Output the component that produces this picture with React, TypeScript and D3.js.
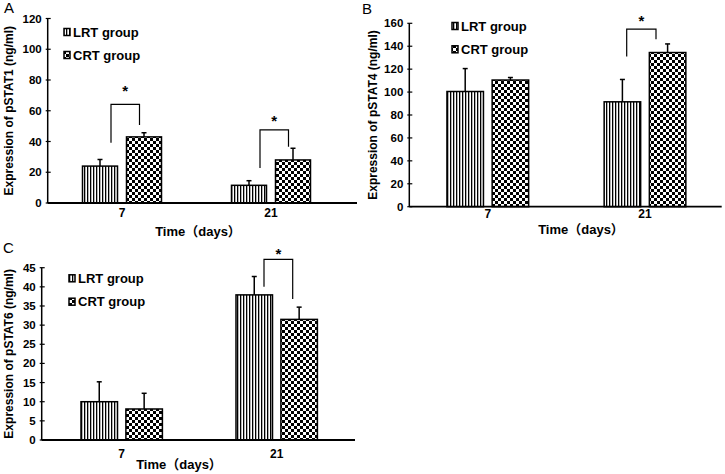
import React from "react";
import * as d3 from "d3";

// ---------- data ----------
const categories = ["7", "21"];
const seriesNames = ["LRT group", "CRT group"];

const pstat1LRT = [24, 11.5];
const pstat1CRT = [43, 28];
const pstat1LRTErr = [4.3, 3];
const pstat1CRTErr = [2.7, 7.6];
const pstat1Ticks = [0, 20, 40, 60, 80, 100, 120];

const pstat4LRT = [100.5, 91.5];
const pstat4CRT = [110.5, 134.5];
const pstat4LRTErr = [20, 19.5];
const pstat4CRTErr = [2.2, 7.5];
const pstat4Ticks = [0, 20, 40, 60, 80, 100, 120, 140, 160];

const pstat6LRT = [10, 37.9];
const pstat6CRT = [8.1, 31.5];
const pstat6LRTErr = [5.2, 4.8];
const pstat6CRTErr = [4.1, 3.2];
const pstat6Ticks = [0, 5, 10, 15, 20, 25, 30, 35, 40, 45];

// significance brackets: [category, leftBottom, top, rightBottom, star]
const pstat1Sig = [
  { cat: "7", left: 39.2, top: 64.2, right: 50.7, star: 74.8 },
  { cat: "21", left: 22.8, top: 47.5, right: 36.6, star: 55.3 },
];
const pstat4Sig = [{ cat: "21", left: 131, top: 155, right: 146, star: 164.5 }];
const pstat6Sig = [{ cat: "21", left: 40, top: 47.2, right: 36.8, star: 49.4 }];

const FONT = "'Liberation Sans', Arial, 'Noto Sans CJK SC', sans-serif";

type Sig = { cat: string; left: number; top: number; right: number; star: number };

type PanelProps = {
  letter: string;
  letterX: number;
  letterY: number;
  yLabel: string;
  yLabelX: number;
  axisX: number;
  axisEnd: number;
  bandStart: number;
  bandEnd: number;
  yMax: number;
  yBottom: number;
  yTop: number;
  ticks: number[];
  lrt: number[];
  crt: number[];
  lrtErr: number[];
  crtErr: number[];
  sig: Sig[];
  sigLeftOff: number;
  sigRightOff: number;
  barW: number;
  gap: number;
  legendX: number;
  legendY1: number;
  legendY2: number;
  catLabelY: number;
  timeX: number;
  timeY: number;
};

function Panel(p: PanelProps) {
  const x = d3.scaleBand<string>().domain(categories).range([p.bandStart, p.bandEnd]).paddingInner(0).paddingOuter(0);
  const total = p.barW * 2 + p.gap;
  const inner = d3
    .scaleBand<string>()
    .domain(seriesNames)
    .range([-total / 2, total / 2])
    .paddingInner(p.gap / (p.barW + p.gap))
    .paddingOuter(0);
  const y = d3.scaleLinear().domain([0, p.yMax]).range([p.yBottom, p.yTop]);
  const center = (c: string) => (x(c) as number) + x.bandwidth() / 2;
  const series = [
    { name: seriesNames[0], vals: p.lrt, errs: p.lrtErr, fill: "url(#stripes)" },
    { name: seriesNames[1], vals: p.crt, errs: p.crtErr, fill: "url(#checker)" },
  ];
  const yLabelCenter = (y(0) + y(p.yMax)) / 2;
  return (
    <g fontFamily={FONT}>
      <text x={p.letterX} y={p.letterY} fontSize={15} fill="#000">
        {p.letter}
      </text>
      {/* bars */}
      {series.map((s) =>
        categories.map((c, i) => {
          const bx = center(c) + (inner(s.name) as number);
          const bw = inner.bandwidth();
          const top = y(s.vals[i]);
          const et = y(s.vals[i] + s.errs[i]);
          const cx = bx + bw / 2;
          return (
            <g key={s.name + c}>
              <line x1={cx} x2={cx} y1={top} y2={et} stroke="#000" strokeWidth={1.5} />
              <line x1={cx - 2.5} x2={cx + 2.5} y1={et} y2={et} stroke="#000" strokeWidth={1.5} />
              <rect x={bx} y={top} width={bw} height={y(0) - top} fill={s.fill} stroke="#000" strokeWidth={1.5} />
            </g>
          );
        })
      )}
      {/* axes */}
      <line x1={p.axisX} x2={p.axisX} y1={y(0)} y2={y(p.yMax)} stroke="#000" strokeWidth={1.5} />
      <line x1={p.axisX} x2={p.axisEnd} y1={y(0)} y2={y(0)} stroke="#000" strokeWidth={1.8} />
      {p.ticks.map((t) => (
        <g key={t}>
          <line x1={p.axisX - 2} x2={p.axisX + 3} y1={y(t)} y2={y(t)} stroke="#000" strokeWidth={1.2} />
          <text x={p.axisX - 6} y={y(t) + 4} fontSize={11.5} fontWeight="bold" textAnchor="end" fill="#000">
            {t}
          </text>
        </g>
      ))}
      {categories.map((c) => (
        <text key={c} x={center(c)} y={p.catLabelY} fontSize={12} fontWeight="bold" textAnchor="middle" fill="#000">
          {c}
        </text>
      ))}
      <text x={p.timeX} y={p.timeY} fontSize={13} fontWeight="bold" textAnchor="middle" fill="#000">
        Time（days）
      </text>
      <text
        transform={`translate(${p.yLabelX},${yLabelCenter}) rotate(-90)`}
        fontSize={12}
        fontWeight="bold"
        textAnchor="middle"
        fill="#000"
      >
        {p.yLabel}
      </text>
      {/* significance */}
      {p.sig.map((s) => {
        const c = center(s.cat);
        const lx = c + p.sigLeftOff;
        const rx = c + p.sigRightOff;
        return (
          <g key={s.cat}>
            <path
              d={`M${lx},${y(s.left)}V${y(s.top)}H${rx}V${y(s.right)}`}
              fill="none"
              stroke="#000"
              strokeWidth={1.2}
            />
            <text x={(lx + rx) / 2} y={y(s.star) + 8} fontSize={15} fontWeight="bold" textAnchor="middle" fill="#000">
              *
            </text>
          </g>
        );
      })}
      {/* legend */}
      {[
        { name: seriesNames[0], y: p.legendY1, fill: "url(#stripes)" },
        { name: seriesNames[1], y: p.legendY2, fill: "url(#checker)" },
      ].map((l) => (
        <g key={l.name}>
          <rect x={p.legendX} y={l.y - 3.5} width={6} height={7} fill={l.fill} stroke="#000" strokeWidth={1.5} />
          <text x={p.legendX + 9} y={l.y + 4.5} fontSize={13} fontWeight="bold" fill="#000">
            {l.name}
          </text>
        </g>
      ))}
    </g>
  );
}

export default function App() {
  return (
    <div style={{ position: "absolute", left: 0, top: 0 }}>
      <svg width={725} height={474} style={{ display: "block", background: "#fff" }}>
        <defs>
          <pattern id="stripes" width={3} height={4} patternUnits="userSpaceOnUse">
            <rect width={3} height={4} fill="#fff" />
            <rect x={0} width={1.3} height={4} fill="#000" />
          </pattern>
          <pattern id="checker" width={6} height={6} patternUnits="userSpaceOnUse">
            <rect width={6} height={6} fill="#fff" />
            <rect x={0} y={0} width={3} height={3} fill="#000" />
            <rect x={3} y={3} width={3} height={3} fill="#000" />
          </pattern>
        </defs>
        <rect width={725} height={474} fill="#fff" />
        <Panel
          letter="A"
          letterX={4}
          letterY={13}
          yLabel="Expression of pSTAT1 (ng/ml)"
          yLabelX={13}
          axisX={47.7}
          axisEnd={357}
          bandStart={47.5}
          bandEnd={345.5}
          yMax={120}
          yBottom={203}
          yTop={18.5}
          ticks={pstat1Ticks}
          lrt={pstat1LRT}
          crt={pstat1CRT}
          lrtErr={pstat1LRTErr}
          crtErr={pstat1CRTErr}
          sig={pstat1Sig}
          sigLeftOff={-11}
          sigRightOff={17.5}
          barW={35}
          gap={9}
          legendX={64}
          legendY1={32}
          legendY2={55}
          catLabelY={217}
          timeX={198}
          timeY={236}
        />
        <Panel
          letter="B"
          letterX={362}
          letterY={14}
          yLabel="Expression of pSTAT4 (ng/ml)"
          yLabelX={377}
          axisX={409.3}
          axisEnd={721.7}
          bandStart={409.2}
          bandEnd={723.6}
          yMax={160}
          yBottom={206.7}
          yTop={23.3}
          ticks={pstat4Ticks}
          lrt={pstat4LRT}
          crt={pstat4CRT}
          lrtErr={pstat4LRTErr}
          crtErr={pstat4CRTErr}
          sig={pstat4Sig}
          sigLeftOff={-18.3}
          sigRightOff={11}
          barW={36.5}
          gap={8.7}
          legendX={452}
          legendY1={26}
          legendY2={49.3}
          catLabelY={218}
          timeX={581}
          timeY={234}
        />
        <Panel
          letter="C"
          letterX={3}
          letterY={253}
          yLabel="Expression of pSTAT6 (ng/ml)"
          yLabelX={13}
          axisX={41.7}
          axisEnd={355}
          bandStart={44.2}
          bandEnd={354.2}
          yMax={45}
          yBottom={440}
          yTop={267.7}
          ticks={pstat6Ticks}
          lrt={pstat6LRT}
          crt={pstat6CRT}
          lrtErr={pstat6LRTErr}
          crtErr={pstat6CRTErr}
          sig={pstat6Sig}
          sigLeftOff={-12.7}
          sigRightOff={16}
          barW={36.5}
          gap={8.4}
          legendX={69}
          legendY1={278.3}
          legendY2={301.7}
          catLabelY={458}
          timeX={179}
          timeY={469}
        />
      </svg>
    </div>
  );
}
